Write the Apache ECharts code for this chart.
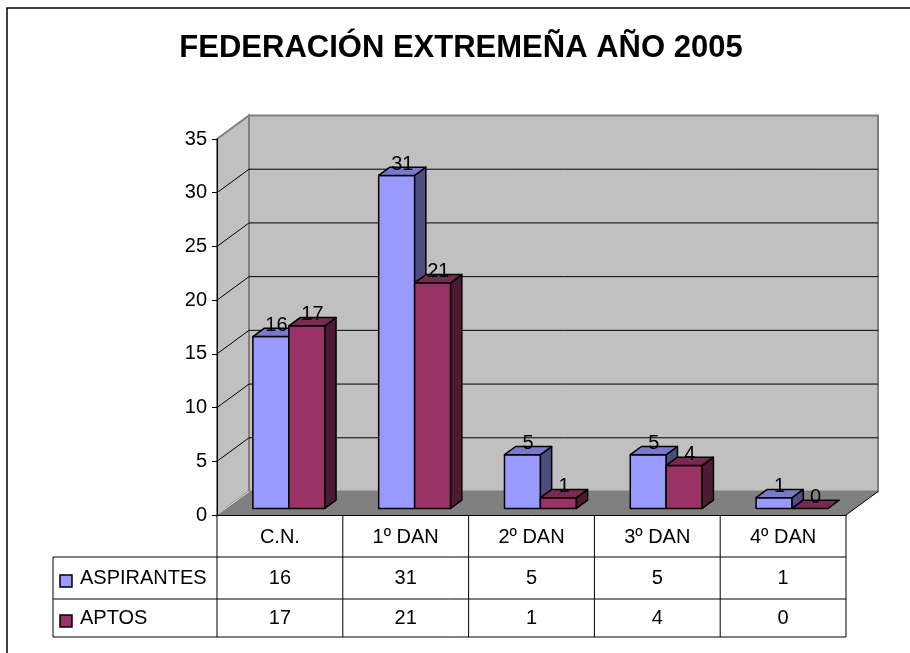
<!DOCTYPE html>
<html>
<head>
<meta charset="utf-8">
<title>Federación Extremeña 2005</title>
<script src="https://cdn.jsdelivr.net/npm/echarts@6/dist/echarts.min.js"></script>
<style>
html, body { margin: 0; padding: 0; background: #fff; }
#chart { width: 910px; height: 653px; }
</style>
</head>
<body>
<div id="chart"></div>
<script>
const categories = ['C.N.', '1º DAN', '2º DAN', '3º DAN', '4º DAN'];
const seriesNames = ['ASPIRANTES', 'APTOS'];
const aspirantes = [16, 31, 5, 5, 1];
const aptos = [17, 21, 1, 4, 0];
const yTicks = [0, 5, 10, 15, 20, 25, 30, 35];

const FONT = 'Arial, "Liberation Sans", sans-serif';
const FS = 20;
const DX = 32, DY = -23.5;   // depth of the 3d box
const F0 = 0.28, F1 = 0.63;  // where the bars sit inside that depth
const BAR = 0.286;           // bar width, part of one category
const ROWS = [42, 84, 122];  // bottoms of the table rows, under the floor
const TABLE_LEFT = 53;

const colors = [
  { front: '#9999ff', top: '#7a7acc', side: '#4d4d80' },
  { front: '#993366', top: '#7a2952', side: '#4d1a33' }
];

function line(x1, y1, x2, y2, color, w) {
  return { type: 'line', shape: { x1, y1, x2, y2 }, style: { stroke: color, lineWidth: w || 1 } };
}

// walls, floor and the gridlines on them
function renderFrame(params, api) {
  const cs = params.coordSys;
  const x0 = cs.x, x1 = cs.x + cs.width;
  const yT = cs.y, yB = cs.y + cs.height;
  const kids = [];
  kids.push({
    type: 'polygon',
    shape: { points: [[x0, yB], [x0, yT], [x0 + DX, yT + DY], [x0 + DX, yB + DY]] },
    style: { fill: '#c0c0c0', stroke: '#808080', lineWidth: 2 }
  });
  kids.push({
    type: 'rect',
    shape: { x: x0 + DX, y: yT + DY, width: x1 - x0, height: yB - yT },
    style: { fill: '#c0c0c0', stroke: '#808080', lineWidth: 2 }
  });
  yTicks.forEach(function (t) {
    if (t === yTicks[0] || t === yTicks[yTicks.length - 1]) return;
    const y = api.coord([0, t])[1];
    kids.push(line(x0, y, x0 + DX, y + DY, '#000'));
    kids.push(line(x0 + DX, y + DY, x1 + DX, y + DY, '#000'));
  });
  kids.push({
    type: 'polygon',
    shape: { points: [[x0, yB], [x0 + DX, yB + DY], [x1 + DX, yB + DY], [x1, yB]] },
    style: { fill: '#808080' }
  });
  kids.push(line(x0 + 1, yB - 1, x0 + DX, yB + DY, '#e0e0e0'));
  kids.push(line(x1, yB, x1 + DX, yB + DY, '#000'));
  return { type: 'group', children: kids };
}

function barRenderer(slot) {
  const c = colors[slot];
  return function (params, api) {
    const i = api.value(0), v = api.value(1);
    const base = api.coord([i, 0]);
    const top = api.coord([i, v]);
    const bw = api.size([1, 0])[0] * BAR;
    const dx = DX * (F1 - F0), dy = DY * (F1 - F0);
    const l = base[0] + DX * F0 + (slot - 1) * bw;
    const r = l + bw;
    const yb = base[1] + DY * F0, yt = top[1] + DY * F0;
    const st = function (fill) { return { fill: fill, stroke: '#000', lineWidth: 1.5, lineJoin: 'round' }; };
    const kids = [];
    if (yb - yt > 0.5) {
      kids.push({ type: 'rect', shape: { x: l, y: yt, width: bw, height: yb - yt }, style: st(c.front) });
      kids.push({ type: 'polygon', shape: { points: [[r, yt], [r + dx, yt + dy], [r + dx, yb + dy], [r, yb]] }, style: st(c.side) });
    }
    kids.push({ type: 'polygon', shape: { points: [[l, yt], [r, yt], [r + dx, yt + dy], [l + dx, yt + dy]] }, style: st(c.top) });
    kids.push({
      type: 'text', z2: 100,
      style: {
        text: String(v), x: (l + r) / 2 + dx / 2, y: yt + dy / 2 - 7,
        fill: '#000', fontSize: FS, fontFamily: FONT, align: 'center', verticalAlign: 'middle'
      }
    });
    return { type: 'group', children: kids };
  };
}

// data table under the floor
function renderTable(params, api) {
  const i = api.value(0);
  const cs = params.coordSys;
  const cx = api.coord([i, 0])[0];
  const cw = api.size([1, 0])[0];
  const x1 = cs.x + cs.width;
  const yB = cs.y + cs.height;
  const mid = [yB + (ROWS[0] + ROWS[1]) / 2, yB + (ROWS[1] + ROWS[2]) / 2];
  const txt = function (s, x, y, align) {
    return { type: 'text', style: { text: s, x: x, y: y, fill: '#000', fontSize: FS, fontFamily: FONT, align: align || 'center', verticalAlign: 'middle' } };
  };
  const kids = [txt(String(api.value(1)), cx, mid[0]), txt(String(api.value(2)), cx, mid[1])];
  kids.push(line(cx - cw / 2, yB, cx - cw / 2, yB + ROWS[2], '#000'));
  if (params.dataIndex === categories.length - 1) {
    kids.push(line(cx + cw / 2, yB, cx + cw / 2, yB + ROWS[2], '#000'));
  }
  if (params.dataIndex === 0) {
    ROWS.forEach(function (h) { kids.push(line(TABLE_LEFT, yB + h, x1, yB + h, '#000')); });
    kids.push(line(TABLE_LEFT, yB + ROWS[0], TABLE_LEFT, yB + ROWS[2], '#000'));
    seriesNames.forEach(function (name, k) {
      kids.push({ type: 'rect', shape: { x: TABLE_LEFT + 7, y: mid[k] - 3, width: 12, height: 12 }, style: { fill: colors[k].front, stroke: '#000', lineWidth: 1.5 } });
      kids.push(txt(name, TABLE_LEFT + 27, mid[k], 'left'));
    });
  }
  return { type: 'group', children: kids };
}

const chart = echarts.init(document.getElementById('chart'), null, { renderer: 'canvas' });
chart.setOption({
  animation: false,
  backgroundColor: '#fff',
  graphic: [
    { type: 'rect', shape: { x: 7, y: 8, width: 930, height: 700 }, style: { fill: 'none', stroke: '#000', lineWidth: 1.5 } },
    { type: 'text', x: 461, y: 48, style: { text: 'FEDERACIÓN EXTREMEÑA AÑO 2005', fill: '#000', fontSize: 31, fontWeight: 'bold', fontFamily: FONT, align: 'center', verticalAlign: 'middle' } }
  ],
  grid: { left: 217, right: 64, top: 139, bottom: 138 },
  xAxis: {
    type: 'category', data: categories, z: 10,
    axisLine: { lineStyle: { color: '#000', width: 1 } },
    axisTick: { show: false },
    axisLabel: { margin: 12, fontSize: FS, color: '#000', fontFamily: FONT },
    splitLine: { show: false }
  },
  yAxis: {
    type: 'value', min: 0, max: 35, interval: 5, z: 10,
    axisLine: { show: true, lineStyle: { color: '#000', width: 1 } },
    axisTick: { show: true, length: 5, lineStyle: { color: '#000' } },
    axisLabel: { margin: 10, fontSize: FS, color: '#000', fontFamily: FONT },
    splitLine: { show: false }
  },
  series: [
    { type: 'custom', name: 'frame', z: 1, renderItem: renderFrame, data: [[0, 0]], silent: true },
    { type: 'custom', name: seriesNames[0], z: 2, renderItem: barRenderer(0), data: aspirantes.map(function (v, i) { return [i, v]; }) },
    { type: 'custom', name: seriesNames[1], z: 2, renderItem: barRenderer(1), data: aptos.map(function (v, i) { return [i, v]; }) },
    { type: 'custom', name: 'table', z: 3, renderItem: renderTable, encode: { x: 0, y: 1 },
      data: categories.map(function (c, i) { return [i, aspirantes[i], aptos[i]]; }) }
  ]
});
</script>
</body>
</html>
